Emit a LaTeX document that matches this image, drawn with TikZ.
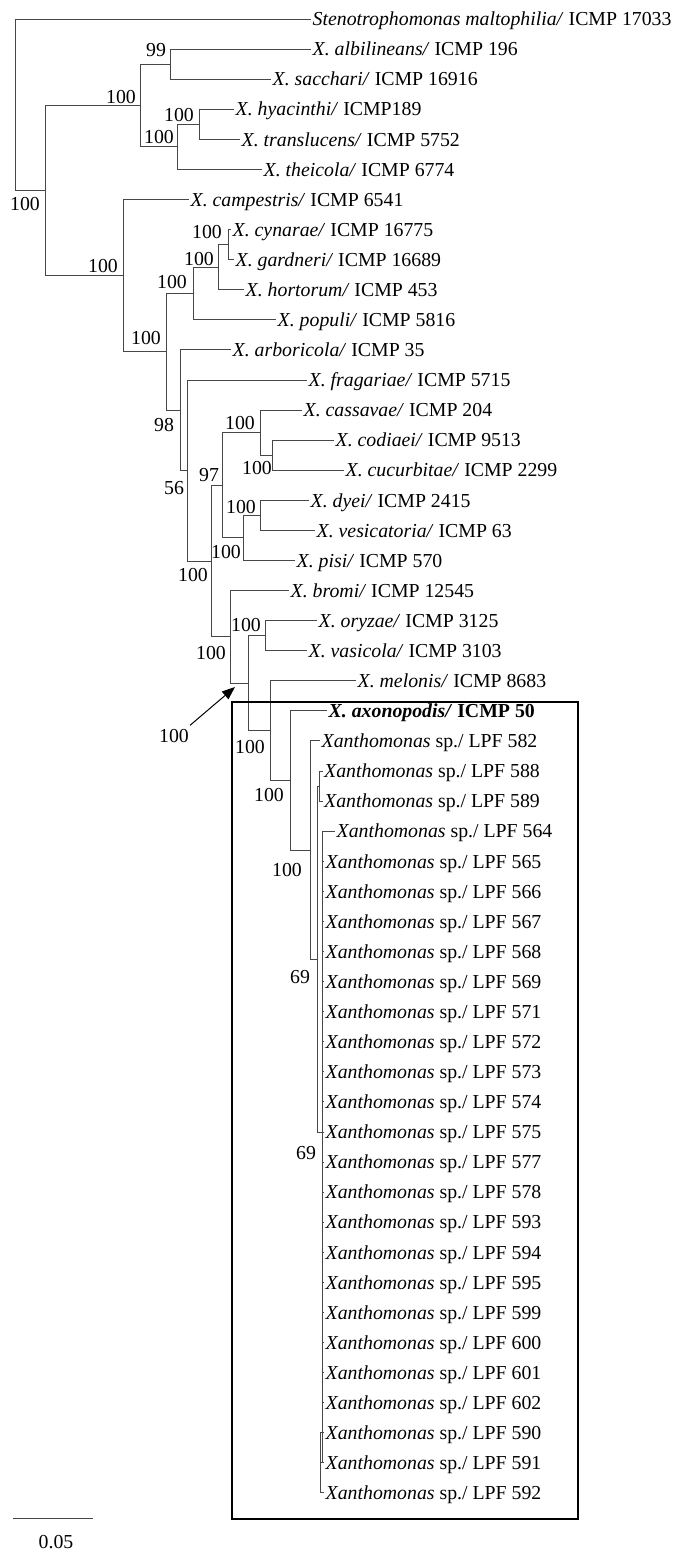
\documentclass[tikz,border=0pt]{standalone}
\usepackage{fontspec}
\setmainfont{Liberation Serif}
\usetikzlibrary{arrows.meta}
\begin{document}
\begin{tikzpicture}[x=1pt,y=-1pt,
  br/.style={draw=black!72,line width=0.9pt},
  leaf/.style={anchor=west,text height=13.5pt,text depth=0pt,inner xsep=1.5pt,inner ysep=0pt,font=\fontsize{19.8}{22}\selectfont},
  lab/.style={anchor=center,text height=13pt,text depth=0pt,inner sep=0pt,font=\fontsize{19.8}{22}\selectfont},
  boxline/.style={draw=black,line width=2.6pt},
  arr/.style={draw=black,line width=1pt,-{Triangle[length=13pt,width=10pt]}}]
\useasboundingbox (0,0) rectangle (686,1561);
% leaves
\node[leaf] (t0) at (311,19.0) {\textit{Stenotrophomonas maltophilia/} ICMP 17033};
\node[leaf] (t1) at (311,49.1) {\textit{X. albilineans/} ICMP 196};
\node[leaf] (t2) at (271,79.2) {\textit{X. sacchari/} ICMP 16916};
\node[leaf] (t3) at (234,109.2) {\textit{X. hyacinthi/} ICMP189};
\node[leaf] (t4) at (240,139.3) {\textit{X. translucens/} ICMP 5752};
\node[leaf] (t5) at (262,169.4) {\textit{X. theicola/} ICMP 6774};
\node[leaf] (t6) at (189,199.5) {\textit{X. campestris/} ICMP 6541};
\node[leaf] (t7) at (231,229.6) {\textit{X. cynarae/} ICMP 16775};
\node[leaf] (t8) at (234,259.6) {\textit{X. gardneri/} ICMP 16689};
\node[leaf] (t9) at (244,289.7) {\textit{X. hortorum/} ICMP 453};
\node[leaf] (t10) at (276,319.8) {\textit{X. populi/} ICMP 5816};
\node[leaf] (t11) at (231,349.9) {\textit{X. arboricola/} ICMP 35};
\node[leaf] (t12) at (307,380.0) {\textit{X. fragariae/} ICMP 5715};
\node[leaf] (t13) at (302,410.0) {\textit{X. cassavae/} ICMP 204};
\node[leaf] (t14) at (334,440.1) {\textit{X. codiaei/} ICMP 9513};
\node[leaf] (t15) at (344,470.2) {\textit{X. cucurbitae/} ICMP 2299};
\node[leaf] (t16) at (309,500.3) {\textit{X. dyei/} ICMP 2415};
\node[leaf] (t17) at (315,530.4) {\textit{X. vesicatoria/} ICMP 63};
\node[leaf] (t18) at (295,560.4) {\textit{X. pisi/} ICMP 570};
\node[leaf] (t19) at (289,590.5) {\textit{X. bromi/} ICMP 12545};
\node[leaf] (t20) at (317,620.6) {\textit{X. oryzae/} ICMP 3125};
\node[leaf] (t21) at (307,650.7) {\textit{X. vasicola/} ICMP 3103};
\node[leaf] (t22) at (356,680.8) {\textit{X. melonis/} ICMP 8683};
\node[leaf] (t23) at (327,710.8) {\textbf{\textit{X. axonopodis/} ICMP 50}};
\node[leaf] (t24) at (320,740.9) {\textit{Xanthomonas} sp./ LPF 582};
\node[leaf] (t25) at (322.5,771.0) {\textit{Xanthomonas} sp./ LPF 588};
\node[leaf] (t26) at (322.5,801.1) {\textit{Xanthomonas} sp./ LPF 589};
\node[leaf] (t27) at (335,831.2) {\textit{Xanthomonas} sp./ LPF 564};
\foreach \i/\n in {28/565,29/566,30/567,31/568,32/569,33/571,34/572,35/573,36/574,37/575,38/577,39/578,40/593,41/594,42/595,43/599,44/600,45/601,46/602,47/590,48/591,49/592}
  \node[leaf] (t\i) at (324,{19+30.08*\i}) {\textit{Xanthomonas} sp./ LPF \n};
% internal nodes
\coordinate (R) at (15,104.8);
\coordinate (A) at (45,190.6);
\coordinate (B) at (140,105.5);
\coordinate (D) at (170,64.2);
\coordinate (E) at (177,146.8);
\coordinate (F) at (199,124.3);
\coordinate (C) at (123,275.7);
\coordinate (G) at (166,351.9);
\coordinate (H3) at (193,293.5);
\coordinate (H2) at (218,267.2);
\coordinate (H1) at (228,244.6);
\coordinate (I) at (180,410.2);
\coordinate (J) at (187,470.5);
\coordinate (K) at (211,561.1);
\coordinate (L) at (222,485.3);
\coordinate (M) at (260,432.6);
\coordinate (O) at (272,455.2);
\coordinate (N) at (243,537.9);
\coordinate (P) at (260,515.4);
\coordinate (Q) at (230,636.8);
\coordinate (S) at (248,683.2);
\coordinate (T) at (265,635.7);
\coordinate (U) at (270,730.6);
\coordinate (V) at (290,780.4);
\coordinate (W) at (310,850.0);
\coordinate (X) at (317,959.0);
\coordinate (Y) at (319.5,786.1);
\coordinate (Z) at (322,1132.0);
\coordinate (Z2) at (320.5,1462.8);
% branches
\draw[br] (R) |- (t0.west) (R) |- (A);
\draw[br] (A) |- (B) (A) |- (C);
\draw[br] (B) |- (D) (B) |- (E);
\draw[br] (D) |- (t1.west) (D) |- (t2.west);
\draw[br] (E) |- (F) (E) |- (t5.west);
\draw[br] (F) |- (t3.west) (F) |- (t4.west);
\draw[br] (C) |- (t6.west) (C) |- (G);
\draw[br] (G) |- (H3) (G) |- (I);
\draw[br] (H3) |- (H2) (H3) |- (t10.west);
\draw[br] (H2) |- (H1) (H2) |- (t9.west);
\draw[br] (H1) |- (t7.west) (H1) |- (t8.west);
\draw[br] (I) |- (t11.west) (I) |- (J);
\draw[br] (J) |- (t12.west) (J) |- (K);
\draw[br] (K) |- (L) (K) |- (Q);
\draw[br] (L) |- (M) (L) |- (N);
\draw[br] (M) |- (t13.west) (M) |- (O);
\draw[br] (O) |- (t14.west) (O) |- (t15.west);
\draw[br] (N) |- (P) (N) |- (t18.west);
\draw[br] (P) |- (t16.west) (P) |- (t17.west);
\draw[br] (Q) |- (t19.west) (Q) |- (S);
\draw[br] (S) |- (T) (S) |- (U);
\draw[br] (T) |- (t20.west) (T) |- (t21.west);
\draw[br] (U) |- (t22.west) (U) |- (V);
\draw[br] (V) |- (t23.west) (V) |- (W);
\draw[br] (W) |- (t24.west) (W) |- (X);
\draw[br] (X) |- (Y) (X) |- (Z);
\draw[br] (Y) |- (t25.west) (Y) |- (t26.west);
\foreach \i in {27,...,46} \draw[br] (Z) |- (t\i.west);
\draw[br] (Z) |- (Z2);
\foreach \i in {47,48,49} \draw[br] (Z2) |- (t\i.west);
% support values
\node[lab] (l1) at (156,50) {99};
\node[lab] (l2) at (121,97) {100};
\node[lab] (l3) at (179,115) {100};
\node[lab] (l4) at (159,137) {100};
\node[lab] (l5) at (25,204) {100};
\node[lab] (l6) at (103,266) {100};
\node[lab] (l7) at (207,232) {100};
\node[lab] (l8) at (199,259) {100};
\node[lab] (l9) at (172,282) {100};
\node[lab] (l10) at (146,338) {100};
\node[lab] (l11) at (164,425) {98};
\node[lab] (l12) at (174,488) {56};
\node[lab] (l13) at (209,475) {97};
\node[lab] (l14) at (240,423) {100};
\node[lab] (l15) at (257,468) {100};
\node[lab] (l16) at (241,507) {100};
\node[lab] (l17) at (226,552) {100};
\node[lab] (l18) at (193,575) {100};
\node[lab] (l19) at (211,653) {100};
\node[lab] (l20) at (246,625) {100};
\node[lab] (l21) at (174,736) {100};
\node[lab] (l22) at (250,747) {100};
\node[lab] (l23) at (269,795) {100};
\node[lab] (l24) at (287,870) {100};
\node[lab] (l25) at (300,977) {69};
\node[lab] (l26) at (306,1153) {69};
% arrow
\coordinate (tip) at (235,687);
\draw[arr] ([shift={(1,-4)}]l21.north east) -- (tip);
% box
\draw[boxline] (232,702) rectangle (578,1519);
% scale bar
\coordinate (sb1) at (13,1518);
\coordinate (sb2) at (93,1518);
\draw[draw=black!72,line width=1pt] (sb1) -- (sb2);
\node[lab] (sbl) at (56,1542) {0.05};
\end{tikzpicture}
\end{document}
